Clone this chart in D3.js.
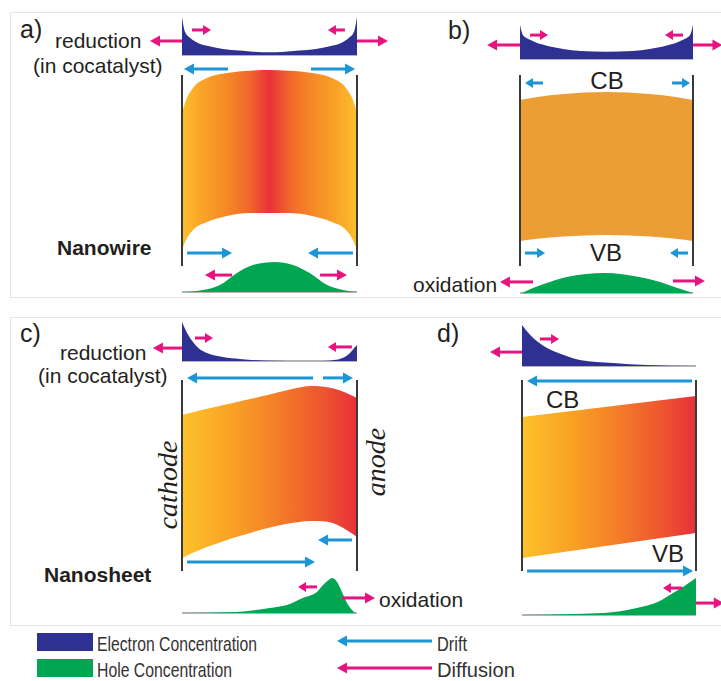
<!DOCTYPE html>
<html><head><meta charset="utf-8">
<script src="https://cdn.jsdelivr.net/npm/d3@7"></script>
<style>body{margin:0;background:#fff}svg{display:block}</style>
</head><body><svg id="c" width="721" height="681"></svg>
<script>
// ================= DATA =================
// x = fractional position across the slab (0 = left surface, 1 = right surface)
// Electron concentration (arb. units)
const elecA_x = [0, 0.017, 0.046, 0.091, 0.143, 0.234, 0.33, 0.43, 0.5, 0.57, 0.67, 0.766, 0.857, 0.909, 0.954, 0.983, 1];
const elecA_n = [0.95, 0.58, 0.43, 0.3, 0.23, 0.15, 0.11, 0.075, 0.07, 0.075, 0.11, 0.15, 0.23, 0.3, 0.43, 0.58, 0.95];
const elecB_x = [0, 0.017, 0.058, 0.156, 0.25, 0.35, 0.5, 0.65, 0.75, 0.844, 0.942, 0.983, 1];
const elecB_n = [0.85, 0.6, 0.48, 0.33, 0.25, 0.2, 0.18, 0.2, 0.25, 0.33, 0.48, 0.6, 0.85];
const elecC_x = [0, 0.029, 0.063, 0.1, 0.143, 0.234, 0.33, 0.46, 0.6, 0.8, 0.88, 0.93, 0.96, 0.985, 1];
const elecC_n = [0.975, 0.7, 0.475, 0.3, 0.2, 0.1, 0.05, 0.0125, 0, 0, 0.03, 0.1, 0.2, 0.33, 0.4];
const elecD_x = [0, 0.046, 0.092, 0.144, 0.236, 0.333, 0.523, 0.72, 1];
const elecD_n = [1.025, 0.78, 0.6, 0.45, 0.28, 0.15, 0.075, 0.025, 0];
// Hole concentration (arb. units)
const holeA_x = [0.017, 0.12, 0.217, 0.314, 0.406, 0.53, 0.634, 0.73, 0.83, 0.92, 1];
const holeA_p = [0, 0.05, 0.175, 0.475, 0.675, 0.75, 0.675, 0.475, 0.175, 0.05, 0];
const holeB_x = [0.01, 0.075, 0.173, 0.27, 0.49, 0.69, 0.81, 0.91, 1];
const holeB_p = [0, 0.125, 0.275, 0.4, 0.5, 0.4, 0.275, 0.125, 0];
const holeC_x = [0, 0.31, 0.5, 0.6, 0.69, 0.771, 0.806, 0.846, 0.857, 0.886, 0.914, 0.943, 0.971, 0.989];
const holeC_p = [0, 0.025, 0.125, 0.2, 0.375, 0.525, 0.7, 0.85, 0.875, 0.775, 0.525, 0.25, 0.075, 0];
const holeD_x = [0, 0.47, 0.66, 0.78, 0.85, 0.925, 1];
const holeD_p = [0, 0.05, 0.175, 0.325, 0.5, 0.7, 0.925];
// Band edges (energy, arb. units; 0..100 spans the surface markers)
const bandA_x = [0, 0.023, 0.063, 0.143, 0.257, 0.39, 0.5, 0.61, 0.743, 0.857, 0.937, 0.977, 1];
const cbA_E = [80, 86.8, 93.2, 98.4, 101.1, 102.3, 102.6, 102.3, 101.1, 98.4, 93.2, 86.8, 80];
const vbA_E = [7.9, 13.2, 18.4, 22.6, 25.8, 27.4, 27.4, 27.4, 25.8, 22.6, 18.4, 13.2, 7.9];
const bandB_x = [0, 0.1, 0.25, 0.5, 0.75, 0.9, 1];
const cbB_E = [86.8, 88.4, 90.0, 91.1, 90.0, 88.4, 86.8];
const vbB_E = [12.6, 13.8, 15.0, 15.8, 15.0, 13.8, 12.6];
const bandC_x = [0, 0.1, 0.2, 0.29, 0.4, 0.49, 0.6, 0.67, 0.73, 0.8, 0.86, 0.94, 1];
const cbC_E = [81.6, 83.9, 86.0, 87.9, 90.2, 92.1, 94.6, 96.0, 96.8, 96.6, 95.6, 93.2, 90.5];
const vbC_E = [6.3, 10.5, 13.9, 16.8, 19.8, 22.1, 24.3, 25.3, 25.8, 25.6, 24.7, 21.1, 17.4];
const bandD_x = [0, 1];
const cbD_E = [80.5, 91.6];
const vbD_E = [6.3, 19.5];
// Carrier transport arrows: [from, to, energy level]
const driftA = [[0.263, 0.011, 103.2], [0.737, 0.989, 103.2], [0.029, 0.286, 6.3], [0.977, 0.72, 6.3]];
const diffA = [[0, -0.183, 117.9], [1, 1.177, 117.9], [0.057, 0.166, 123.7], [0.931, 0.834, 123.7], [0.286, 0.131, -5.3], [0.789, 0.943, -5.3]];
const driftB = [[0.133, 0.029, 95.8], [0.879, 0.983, 95.8], [0.029, 0.145, 6.3], [0.971, 0.867, 6.3]];
const diffB = [[0, -0.19, 115.8], [1, 1.17, 115.8], [0.058, 0.162, 121], [0.942, 0.838, 121], [0.075, -0.116, -8.9], [0.884, 1.069, -8.4]];
const driftC = [[0.749, 0.029, 101.1], [0.806, 0.977, 101.1], [0.971, 0.777, 15.8], [0.029, 0.76, 4.2]];
const diffC = [[0, -0.166, 116.8], [0.074, 0.177, 122.1], [0.971, 0.834, 117.4], [0.771, 0.663, -8.9], [0.914, 1.103, -14.7]];
const driftD = [[0.977, 0.029, 99.5], [0.029, 0.983, -0.5]];
const diffD = [[0, -0.184, 114.7], [0.103, 0.213, 121.6], [0.92, 0.81, -9.5], [1, 1.16, -17.4]];
const legendItems = ["Electron Concentration", "Hole Concentration"];
const legendArrows = ["Drift", "Diffusion"];

// ================= DRAWING =================
const C = {elec:"#2e3192", hole:"#00a651", drift:"#1b95d3", diff:"#e5147f", text:"#231f20", wall:"#3a3a3a", base:"#9a9a9a"};
const svg = d3.select("#c");
const defs = svg.append("defs");
function grad(id, stops){
  const g = defs.append("linearGradient").attr("id", id).attr("x1",0).attr("x2",1).attr("y1",0).attr("y2",0);
  stops.forEach(s => g.append("stop").attr("offset", s[0]).attr("stop-color", s[1]));
}
grad("gA", [[0,"#fdbf2c"],[0.12,"#f9a228"],[0.25,"#f68a26"],[0.38,"#f1682b"],[0.5,"#e8323a"],[0.62,"#f1682b"],[0.75,"#f68a26"],[0.88,"#f9a228"],[1,"#fdbf2c"]]);
grad("gC", [[0,"#fdc22b"],[0.3,"#f8a024"],[0.55,"#f47d28"],[0.8,"#ee5630"],[1,"#e8303a"]]);

// panel frames
svg.append("rect").attr("x",10.5).attr("y",12.5).attr("width",720).attr("height",285).attr("fill","none").attr("stroke","#e6e6e6");
svg.append("rect").attr("x",10.5).attr("y",317.5).attr("width",720).attr("height",308).attr("fill","none").attr("stroke","#e6e6e6");

const concScale = d3.scaleLinear().domain([0,1]).range([0,40]);

function arrow(g, xa, ya, xb, yb, color){
  const len = Math.abs(xb - xa), dir = Math.sign(xb - xa);
  const hl = len < 25 ? 8 : 10, hw = len < 25 ? 10 : 11;
  g.append("line").attr("x1", xa).attr("y1", ya).attr("x2", xb - dir*hl*0.8).attr("y2", yb)
    .attr("stroke", color).attr("stroke-width", 3);
  const p = d3.path();
  p.moveTo(xb, yb); p.lineTo(xb - dir*hl, yb - hw/2); p.lineTo(xb - dir*hl, yb + hw/2); p.closePath();
  g.append("path").attr("d", p.toString()).attr("fill", color);
}

function panel(cfg){
  const x = d3.scaleLinear().domain([0,1]).range([cfg.x0, cfg.x1]);
  const y = d3.scaleLinear().domain([0,100]).range([cfg.lineBot, cfg.lineTop]);
  const g = svg.append("g");
  const band = d3.area().curve(d3.curveMonotoneX).x(d => x(d[0])).y0(d => y(d[1])).y1(d => y(d[2]));
  g.append("path").datum(d3.zip(cfg.bandX, cfg.vb, cfg.cb)).attr("d", band).attr("fill", cfg.fill);
  [0,1].forEach(s => g.append("line").attr("x1", x(s)).attr("x2", x(s)).attr("y1", cfg.lineTop).attr("y2", cfg.lineBot+1)
      .attr("stroke", C.wall).attr("stroke-width", 2));
  [[cfg.eX, cfg.eN, cfg.eBase, C.elec], [cfg.hX, cfg.hN, cfg.hBase, C.hole]].forEach(([xs, ns, base, col]) => {
    g.append("line").attr("x1", x(0)).attr("x2", x(1)).attr("y1", base).attr("y2", base).attr("stroke", C.base).attr("stroke-width", 1.5);
    const a = d3.area().curve(d3.curveMonotoneX).x(d => x(d[0])).y0(base).y1(d => base - concScale(d[1]));
    g.append("path").datum(d3.zip(xs, ns)).attr("d", a).attr("fill", col);
  });
  cfg.drift.forEach(d => arrow(g, x(d[0]), y(d[2]), x(d[1]), y(d[2]), C.drift));
  cfg.diff.forEach(d => arrow(g, x(d[0]), y(d[2]), x(d[1]), y(d[2]), C.diff));
}

panel({x0:182, x1:357, lineTop:75, lineBot:265, eBase:55, hBase:292, fill:"url(#gA)",
  bandX:bandA_x, cb:cbA_E, vb:vbA_E, eX:elecA_x, eN:elecA_n, hX:holeA_x, hN:holeA_p, drift:driftA, diff:diffA});
panel({x0:520, x1:693, lineTop:75, lineBot:265, eBase:59, hBase:293, fill:"#ec9d34",
  bandX:bandB_x, cb:cbB_E, vb:vbB_E, eX:elecB_x, eN:elecB_n, hX:holeB_x, hN:holeB_p, drift:driftB, diff:diffB});
panel({x0:182, x1:357, lineTop:380, lineBot:570, eBase:361, hBase:613, fill:"url(#gC)",
  bandX:bandC_x, cb:cbC_E, vb:vbC_E, eX:elecC_x, eN:elecC_n, hX:holeC_x, hN:holeC_p, drift:driftC, diff:diffC});
panel({x0:522, x1:696, lineTop:380, lineBot:570, eBase:366, hBase:615, fill:"url(#gC)",
  bandX:bandD_x, cb:cbD_E, vb:vbD_E, eX:elecD_x, eN:elecD_n, hX:holeD_x, hN:holeD_p, drift:driftD, diff:diffD});

function txt(s, x, y, size, opts={}){
  const t = svg.append("text").attr("x", x).attr("y", y).text(s)
    .attr("font-family", opts.family || "'Liberation Sans', Arial, sans-serif")
    .attr("font-size", size).attr("fill", opts.color || C.text)
    .attr("font-weight", opts.bold ? "bold" : "normal")
    .attr("font-style", opts.italic ? "italic" : "normal")
    .attr("text-anchor", opts.anchor || "start");
  if (opts.len) t.attr("textLength", opts.len).attr("lengthAdjust", "spacingAndGlyphs");
  if (opts.rot) t.attr("transform", `rotate(${opts.rot},${x},${y})`);
  return t;
}
txt("a)", 20, 38, 25);
txt("b)", 448, 39, 25);
txt("c)", 20, 342, 25);
txt("d)", 437, 342, 25);
txt("reduction", 55, 48, 21);
txt("(in cocatalyst)", 33, 73, 21);
txt("Nanowire", 57, 255, 21, {bold:true});
txt("CB", 607, 89, 24, {anchor:"middle"});
txt("VB", 606, 261, 24, {anchor:"middle"});
txt("oxidation", 413, 292, 21);
txt("reduction", 60, 360, 21);
txt("(in cocatalyst)", 38, 383, 21);
txt("Nanosheet", 44, 582, 21, {bold:true});
txt("oxidation", 379, 607, 21);
txt("cathode", 177, 485, 28, {family:"'Liberation Serif', 'Times New Roman', serif", italic:true, anchor:"middle", rot:-90});
txt("anode", 385, 462, 28, {family:"'Liberation Serif', 'Times New Roman', serif", italic:true, anchor:"middle", rot:-90});
txt("CB", 546, 408, 24);
txt("VB", 652, 562, 24);

// legend
const lg = svg.append("g");
[C.elec, C.hole].forEach((col, i) => {
  lg.append("rect").attr("x", 37).attr("y", 633 + i*26).attr("width", 56).attr("height", 18).attr("fill", col);
});
txt(legendItems[0], 97, 651, 21, {len:160, color:"#333"});
txt(legendItems[1], 97, 677, 21, {len:135, color:"#333"});
arrow(lg, 432, 641, 337, 641, C.drift);
arrow(lg, 432, 668, 337, 668, C.diff);
txt(legendArrows[0], 437, 651, 21, {len:30, color:"#333"});
txt(legendArrows[1], 437, 677, 21, {len:78, color:"#333"});
</script></body></html>
